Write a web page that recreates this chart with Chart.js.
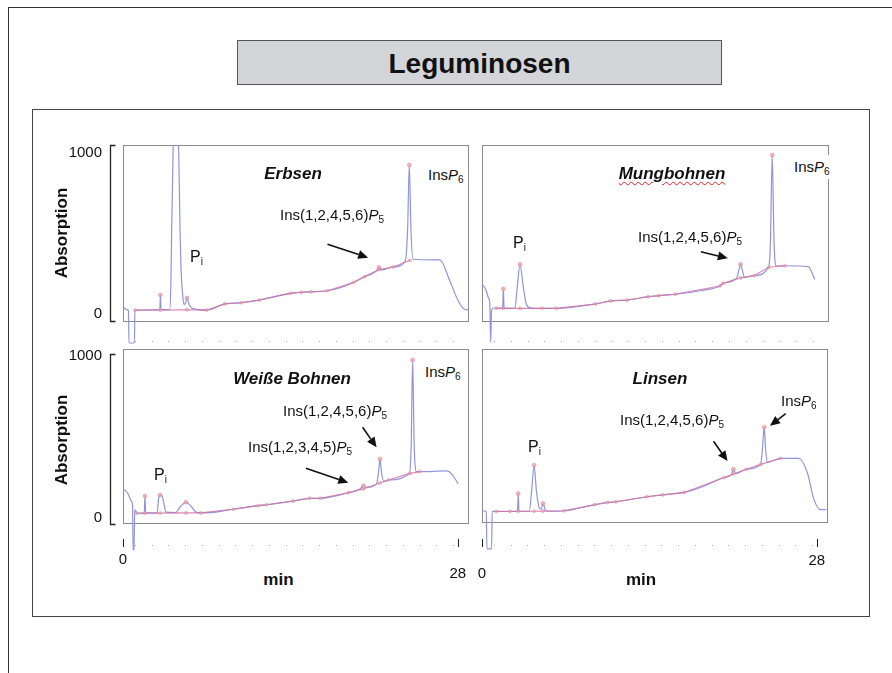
<!DOCTYPE html>
<html>
<head>
<meta charset="utf-8">
<script src="https://cdn.jsdelivr.net/npm/chart.js@4.4.0/dist/chart.umd.min.js"></script>
<style>
  body { margin: 0; width: 892px; height: 673px; position: relative; overflow: hidden; background: #fff;
         font-family: "Liberation Sans", Arial, sans-serif; color: #111; }
  .abs { position: absolute; }
  #outer { left: 8px; top: 7px; width: 900px; height: 700px; border-left: 1px solid #333; border-top: 1px solid #333; }
  #titlebox { left: 237px; top: 40px; width: 483px; height: 43px; background: #d4d5d8; border: 1px solid #555;
              font-weight: bold; font-size: 28px; line-height: 45px; text-align: center; }
  #inner { left: 32px; top: 109px; width: 836px; height: 506px; border: 1px solid #444; }
  canvas { position: absolute; }
  .lbl { position: absolute; font-size: 15px; line-height: 16px; white-space: nowrap; }
  .lbl sub { font-size: 10px; line-height: 0; vertical-align: -3px; }
  .name { position: absolute; font-size: 17px; font-weight: bold; font-style: italic; line-height: 18px;
          white-space: nowrap; transform: translateX(-50%); }
  .tick { position: absolute; font-size: 15px; line-height: 16px; }
  .axt { position: absolute; font-size: 17px; font-weight: bold; line-height: 18px; white-space: nowrap; }
  .wbg { background: #fff; padding: 4px 3px 4px 1px; margin: -4px 0 0 -1px; }
</style>
</head>
<body>
<div id="outer" class="abs"></div>
<div id="titlebox" class="abs">Leguminosen</div>
<div id="inner" class="abs"></div>

<script>
// Erbsen
const erbsenTime = [0, 0.3, 0.45, 0.5, 0.95, 1.0, 3.0, 3.08, 3.13, 3.18, 3.9, 4.0, 4.07, 4.2, 4.45, 4.65, 4.77, 4.85, 5.0, 5.1, 5.22, 5.35, 5.5, 5.8, 7.0, 8.5, 9.9, 11.4, 14.0, 14.9, 15.7, 17.1, 18.3, 19.3, 20.2, 21.2, 21.4, 21.6, 22.6, 23.6, 23.8, 23.94, 24.08, 24.25, 26.5, 27.3, 28.0, 28.45, 28.85];
const erbsenAbs  = [80, 65, 60, -125, -125, 62, 64, 66, 148, 66, 64, 200, 520, 1000, 1400, 1000, 520, 300, 140, 95, 100, 131, 100, 72, 62, 97, 104, 119, 157, 163, 166, 172, 192, 220, 252, 285, 305, 290, 307, 340, 520, 886, 520, 351, 347, 233, 119, 72, 62];
const erbsenBaseTime = [1.0, 3.13, 5.35, 7.0, 8.5, 9.9, 11.4, 14.0, 14.9, 15.7, 17.1, 19.3, 20.2, 21.4, 22.6, 24.0];
const erbsenBaseAbs  = [62, 62, 64, 62, 97, 104, 119, 157, 163, 166, 172, 220, 252, 292, 307, 345];
const erbsenPeakTime = [3.13, 5.35, 21.4, 23.94];
const erbsenPeakAbs  = [148, 131, 305, 886];
const erbsenArrows = [[17.1, 436, 20.5, 360]];

// Mungbohnen
const mungTime = [0, 0.3, 0.55, 0.65, 0.72, 0.8, 0.95, 1.5, 1.72, 1.78, 1.84, 2.5, 2.75, 2.94, 3.17, 3.44, 3.7, 4.0, 5.0, 6.2, 9.47, 10.72, 12.1, 13.86, 14.75, 16.08, 18.2, 19.83, 20.1, 21.25, 21.42, 21.56, 21.7, 21.9, 22.7, 23.9, 24.05, 24.2, 24.35, 24.55, 25.25, 27.2, 27.75];
const mungAbs  = [210, 180, 130, 100, -120, 60, 74, 72, 75, 182, 75, 72, 74, 195, 322, 195, 95, 75, 72, 72, 97, 114, 119, 138, 144, 152, 172, 199, 214, 245, 290, 322, 290, 248, 258, 305, 450, 943, 450, 312, 314, 309, 237];
const mungBaseTime = [1.2, 1.78, 3.17, 5.0, 6.2, 9.47, 10.72, 12.1, 13.86, 14.75, 16.08, 19.83, 20.1, 21.56, 22.7, 23.9, 25.25];
const mungBaseAbs  = [72, 72, 72, 72, 72, 97, 114, 119, 138, 144, 152, 199, 214, 245, 258, 305, 314];
const mungPeakTime = [1.78, 3.17, 21.56, 24.2];
const mungPeakAbs  = [182, 322, 322, 943];
const mungArrows = [[18.25, 394, 20.5, 356]];

// Weiße Bohnen
const bohnenTime = [0, 0.4, 0.73, 0.8, 0.84, 0.92, 0.98, 1.2, 1.78, 1.84, 1.9, 2.85, 2.98, 3.1, 3.25, 3.4, 3.6, 4.4, 4.8, 5.27, 5.7, 6.2, 7.0, 9.22, 11.3, 12.0, 14.2, 15.6, 16.5, 18.84, 19.8, 20.1, 20.4, 21.2, 21.38, 21.49, 21.6, 21.8, 22.2, 23.95, 24.1, 24.22, 24.35, 24.55, 24.8, 27.07, 27.5, 28.04];
const bohnenAbs  = [199, 170, 122, 100, -155, -155, 75, 56, 58, 155, 58, 58, 140, 161, 158, 120, 62, 60, 95, 119, 95, 60, 58, 79, 100, 105, 126, 142, 142, 174, 195, 214, 205, 225, 300, 368, 300, 240, 247, 285, 450, 937, 450, 295, 295, 299, 281, 224];
const bohnenBaseTime = [1.15, 1.84, 3.1, 5.27, 6.5, 9.22, 11.3, 12.0, 14.2, 15.6, 16.5, 18.84, 20.1, 21.49, 22.2, 24.0, 24.8];
const bohnenBaseAbs  = [56, 56, 57, 58, 58, 79, 100, 105, 126, 142, 142, 174, 196, 230, 247, 285, 295];
const bohnenPeakTime = [1.84, 3.1, 5.27, 20.1, 21.49, 24.22];
const bohnenPeakAbs  = [155, 161, 119, 214, 368, 937];
const bohnenArrows = [[20.04, 550, 21.2, 435], [15.3, 314, 18.84, 232]];

// Linsen
const linsenTime = [0, 0.35, 0.42, 0.8, 0.85, 2.33, 2.97, 3.03, 3.09, 3.95, 4.15, 4.36, 4.55, 4.8, 4.95, 5.1, 5.3, 5.6, 6.9, 9.42, 10.5, 11.2, 13.8, 15.1, 16.9, 18.5, 20.25, 20.85, 21.03, 21.2, 22.1, 23.3, 23.45, 23.6, 23.72, 23.85, 24.97, 26.5, 27.2, 27.75, 28.3, 28.8];
const linsenAbs  = [65, 62, -155, -155, 61, 61, 62, 165, 62, 62, 180, 328, 180, 80, 75, 107, 70, 62, 65, 100, 113, 117, 146, 157, 171, 205, 257, 272, 305, 280, 305, 333, 420, 548, 420, 345, 368, 368, 286, 132, 71, 71];
const linsenBaseTime = [1.2, 2.33, 3.03, 4.36, 5.1, 6.9, 9.42, 10.5, 11.2, 13.8, 15.1, 16.9, 20.25, 21.03, 22.1, 23.3, 24.97];
const linsenBaseAbs  = [61, 61, 62, 62, 63, 65, 100, 113, 117, 146, 157, 171, 257, 278, 305, 333, 368];
const linsenPeakTime = [3.03, 4.36, 5.1, 21.03, 23.6];
const linsenPeakAbs  = [165, 328, 107, 305, 548];
const linsenArrows = [[25.4, 626, 24.08, 557], [19.36, 467, 20.53, 352]];

const xTickValues = [0, 28];
const xTickLabels = ['0', '28'];
const yTickLabels = ['1000', '0'];

const pts = (xs, ys) => xs.map((x, i) => ({ x: x, y: ys[i] }));

// Rahmen, Klammer, x-Achse und Pfeile
const framePlugin = {
  id: 'frame',
  beforeDatasetsDraw(chart, args, o) {
    const { ctx, chartArea: a, scales } = chart;
    ctx.save();
    ctx.strokeStyle = '#8c8c8c';
    ctx.lineWidth = 1;
    ctx.strokeRect(a.left + 0.5, a.top + 0.5, a.right - a.left, a.bottom - a.top);
    if (o.bracket) {
      const bx = a.left - 12.5, t = a.top + o.bracket[0] + 0.5, b = a.bottom + o.bracket[1] + 0.5;
      ctx.strokeStyle = '#222';
      ctx.lineWidth = 1.3;
      ctx.beginPath();
      ctx.moveTo(bx + 5, t); ctx.lineTo(bx, t); ctx.lineTo(bx, b); ctx.lineTo(bx + 5, b);
      ctx.stroke();
    }
    // gepunktete Zeitachse
    const ay = a.bottom + o.axisGap;
    ctx.fillStyle = '#a8a8a8';
    for (let t = 1; t < 28; t += o.dotStep) {
      ctx.fillRect(Math.round(scales.x.getPixelForValue(t)), ay, 1, 1);
    }
    if (o.ticks) {
      ctx.strokeStyle = '#222';
      ctx.lineWidth = 1;
      xTickValues.forEach(v => {
        const px = Math.round(scales.x.getPixelForValue(v)) + 0.5;
        ctx.beginPath(); ctx.moveTo(px, ay - 6); ctx.lineTo(px, ay + 2); ctx.stroke();
      });
    }
    ctx.restore();
  },
  afterDatasetsDraw(chart, args, o) {
    const { ctx, scales } = chart;
    ctx.save();
    ctx.strokeStyle = '#111';
    ctx.fillStyle = '#111';
    ctx.lineWidth = 1.6;
    (o.arrows || []).forEach(r => {
      const x1 = scales.x.getPixelForValue(r[0]), y1 = scales.y.getPixelForValue(r[1]);
      const x2 = scales.x.getPixelForValue(r[2]), y2 = scales.y.getPixelForValue(r[3]);
      const ang = Math.atan2(y2 - y1, x2 - x1), hl = 10, hw = 4.5;
      const bxp = x2 - hl * Math.cos(ang), byp = y2 - hl * Math.sin(ang);
      ctx.beginPath(); ctx.moveTo(x1, y1); ctx.lineTo(bxp, byp); ctx.stroke();
      ctx.beginPath();
      ctx.moveTo(x2, y2);
      ctx.lineTo(bxp + hw * Math.sin(ang), byp - hw * Math.cos(ang));
      ctx.lineTo(bxp - hw * Math.sin(ang), byp + hw * Math.cos(ang));
      ctx.closePath(); ctx.fill();
    });
    ctx.restore();
  }
};

const PAD = { left: 30, top: 10, right: 10, bottom: 35 };

const panels = [
  { box: [123, 145, 345, 176], time: erbsenTime, abs: erbsenAbs, bt: erbsenBaseTime, ba: erbsenBaseAbs,
    pt: erbsenPeakTime, pa: erbsenPeakAbs, arrows: erbsenArrows, bracket: [0, 0], axisGap: 20, ticks: false },
  { box: [482, 145, 346, 176], time: mungTime, abs: mungAbs, bt: mungBaseTime, ba: mungBaseAbs,
    pt: mungPeakTime, pa: mungPeakAbs, arrows: mungArrows, bracket: null, axisGap: 20, ticks: false },
  { box: [123, 349, 345, 174], time: bohnenTime, abs: bohnenAbs, bt: bohnenBaseTime, ba: bohnenBaseAbs,
    pt: bohnenPeakTime, pa: bohnenPeakAbs, arrows: bohnenArrows, bracket: [5, 1], axisGap: 22, ticks: true },
  { box: [482, 349, 345, 173], time: linsenTime, abs: linsenAbs, bt: linsenBaseTime, ba: linsenBaseAbs,
    pt: linsenPeakTime, pa: linsenPeakAbs, arrows: linsenArrows, bracket: null, axisGap: 23, ticks: true }
];

const charts = panels.map(p => {
  const c = document.createElement('canvas');
  c.width = p.box[2] + PAD.left + PAD.right;
  c.height = p.box[3] + PAD.top + PAD.bottom;
  c.style.left = (p.box[0] - PAD.left) + 'px';
  c.style.top = (p.box[1] - PAD.top) + 'px';
  document.body.appendChild(c);
  return new Chart(c, {
    type: 'line',
    data: {
      datasets: [
        { data: pts(p.time, p.abs), borderColor: 'rgb(145,148,220)', borderWidth: 1.2, pointRadius: 0,
          cubicInterpolationMode: 'monotone', clip: { left: 0, top: 0, right: 0, bottom: 40 }, order: 2 },
        { data: pts(p.bt, p.ba), borderColor: 'rgba(214,112,168,0.85)', borderWidth: 1.1, pointRadius: 1.6,
          pointBackgroundColor: 'rgba(236,160,160,0.6)', pointBorderColor: 'rgba(205,120,150,0.6)', pointBorderWidth: 0.6,
          tension: 0, order: 1 },
        { data: pts(p.pt, p.pa), showLine: false, pointRadius: 2,
          pointBackgroundColor: 'rgba(236,160,160,0.7)', pointBorderColor: 'rgba(205,120,150,0.7)', pointBorderWidth: 0.6, order: 0 }
      ]
    },
    options: {
      responsive: false, animation: false, devicePixelRatio: 1,
      layout: { padding: PAD },
      plugins: { legend: { display: false }, tooltip: { enabled: false },
        frame: { bracket: p.bracket, axisGap: p.axisGap, ticks: p.ticks, dotStep: 1.4, arrows: p.arrows } },
      scales: {
        x: { type: 'linear', min: 0, max: 28.85, display: false },
        y: { type: 'linear', min: 0, max: 1000, display: false }
      }
    },
    plugins: [framePlugin]
  });
});

// Beschriftungen
function addHtml(cls, html, left, top, extra) {
  const d = document.createElement('div');
  d.className = cls;
  d.innerHTML = html;
  d.style.left = left + 'px';
  d.style.top = top + 'px';
  if (extra) Object.assign(d.style, extra);
  document.body.appendChild(d);
  return d;
}
const P6 = 'Ins<i>P</i><sub>6</sub>';
const P5a = 'Ins(1,2,4,5,6)<i>P</i><sub>5</sub>';
const P5b = 'Ins(1,2,3,4,5)<i>P</i><sub>5</sub>';
const Pi = '<span style="font-size:16px">P<sub>i</sub></span>';

addHtml('name', 'Erbsen', 293, 165);
addHtml('name', 'Mungbohnen', 672, 165, { textDecoration: 'underline wavy #e02020', textDecorationThickness: '1px', textUnderlineOffset: '2px' });
addHtml('name', 'Weiße Bohnen', 292, 370);
addHtml('name', 'Linsen', 660, 370);

addHtml('lbl wbg', P6, 428, 167);
addHtml('lbl', P5a, 280, 207);
addHtml('lbl', Pi, 190, 249);

addHtml('lbl wbg', P6, 794, 159);
addHtml('lbl', P5a, 638, 229);
addHtml('lbl', Pi, 513, 235);

addHtml('lbl wbg', P6, 425, 364);
addHtml('lbl', P5a, 283, 403);
addHtml('lbl', P5b, 248, 439);
addHtml('lbl', Pi, 154, 467);

addHtml('lbl', P6, 781, 393);
addHtml('lbl', P5a, 620, 412);
addHtml('lbl', Pi, 528, 439);

// y-Achse
[[152, 313], [355, 517]].forEach((ys, k) => {
  yTickLabels.forEach((t, i) => addHtml('tick', t, 62, ys[i] - 8, { width: '40px', textAlign: 'right' }));
  addHtml('axt', 'Absorption', 62, k === 0 ? 233 : 440, { transform: 'translate(-50%,-50%) rotate(-90deg)' });
});

// x-Achse (untere Reihe)
const xLabelY = [[559, 573], [573, 560]];
[2, 3].forEach((pi, k) => {
  const ch = charts[pi];
  const left0 = panels[pi].box[0] - PAD.left;
  xTickValues.forEach((v, i) => {
    const px = left0 + ch.scales.x.getPixelForValue(v);
    addHtml('tick', xTickLabels[i], px, xLabelY[k][i] - 8, { transform: 'translateX(-50%)' });
  });
  addHtml('axt', 'min', left0 + ch.scales.x.getPixelForValue(k === 0 ? 13 : 13.3), 571, { transform: 'translateX(-50%)' });
});
</script>
</body>
</html>
